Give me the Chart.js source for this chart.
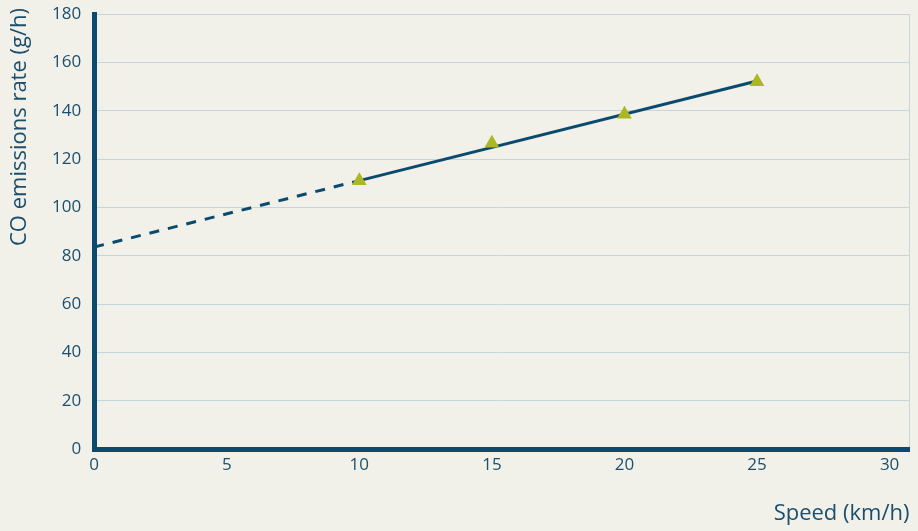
<!DOCTYPE html>
<html>
<head>
<meta charset="utf-8">
<script src="https://cdn.jsdelivr.net/npm/chart.js@4/dist/chart.umd.min.js"></script>
<style>
  html, body { margin: 0; padding: 0; background: #f1f0e9; }
  #wrap { width: 918px; height: 531px; }
</style>
</head>
<body>
<div id="wrap"><canvas id="c" width="918" height="531"></canvas></div>
<script>
// Measured CO emission rates at each speed
const speeds = [10, 15, 20, 25];
const emissions = [111, 126.5, 138.5, 152];

// Linear trend: extrapolated back to 0 km/h (dashed), fitted over the measured range (solid)
const trendSpeeds = [0, 10, 25];
const trendValues = [83.6, 111.1, 152.3];

// Axis ticks
const xTicks = [0, 5, 10, 15, 20, 25, 30];
const yTicks = [0, 20, 40, 60, 80, 100, 120, 140, 160, 180];

const yTitle = 'CO emissions rate (g/h)';
const xTitle = 'Speed (km/h)';

const NAVY = '#0a4a6f';
const TEXT = '#1b4f6d';
const GRID = '#c4d6db';
const LIME = '#abb822';
const FONT = "'Open Sans', 'Noto Sans', sans-serif";

const trendPoints = trendSpeeds.map((x, i) => ({ x, y: trendValues[i] }));
const markerPoints = speeds.map((x, i) => ({ x, y: emissions[i] }));

// Vertical axis title, set flush with the top of the plot
const yTitlePlugin = {
  id: 'yTitle',
  afterDraw(chart) {
    const ctx = chart.ctx;
    ctx.save();
    ctx.translate(20, 8);
    ctx.rotate(-Math.PI / 2);
    ctx.font = '22px ' + FONT;
    ctx.fillStyle = TEXT;
    ctx.textAlign = 'right';
    ctx.textBaseline = 'middle';
    ctx.fillText(yTitle, 0, 0);
    ctx.restore();
  }
};

new Chart(document.getElementById('c'), {
  type: 'scatter',
  data: {
    datasets: [
      {
        type: 'line',
        data: trendPoints,
        borderColor: NAVY,
        borderWidth: 3,
        pointRadius: 0,
        fill: false,
        tension: 0,
        segment: {
          borderDash: ctx => ctx.p1.parsed.x <= 10 ? [10, 9] : undefined
        },
        order: 2
      },
      {
        data: markerPoints,
        pointStyle: 'triangle',
        pointRadius: 8.5,
        pointHoverRadius: 8.5,
        backgroundColor: LIME,
        borderColor: LIME,
        borderWidth: 0,
        order: 1
      }
    ]
  },
  plugins: [yTitlePlugin],
  options: {
    responsive: false,
    animation: false,
    layout: { padding: { top: 14, right: 4, bottom: 4, left: 39 } },
    plugins: { legend: { display: false }, tooltip: { enabled: false } },
    scales: {
      x: {
        type: 'linear',
        min: 0,
        max: 30.75,
        afterBuildTicks: axis => {
          axis.ticks = xTicks.map(v => ({ value: v })).concat([{ value: 30.75 }]);
        },
        afterFit: scale => { scale.paddingLeft = 0; scale.paddingRight = 0; },
        border: { color: NAVY, width: 5 },
        grid: {
          drawTicks: false,
          lineWidth: 1,
          color: ctx => (ctx.tick && ctx.tick.value > 30 ? GRID : 'rgba(0,0,0,0)')
        },
        ticks: {
          padding: 6,
          color: TEXT,
          font: { family: FONT, size: 17 },
          callback: v => (xTicks.includes(v) ? String(v) : '')
        },
        title: {
          display: true,
          text: xTitle,
          align: 'end',
          color: TEXT,
          font: { family: FONT, size: 22 },
          padding: { top: 19, bottom: 0 }
        }
      },
      y: {
        type: 'linear',
        min: 0,
        max: 180,
        afterBuildTicks: axis => {
          axis.ticks = yTicks.map(v => ({ value: v }));
        },
        afterFit: scale => { scale.paddingTop = 0; scale.paddingBottom = 0; },
        border: { color: NAVY, width: 5 },
        grid: { drawTicks: false, lineWidth: 1, color: GRID },
        ticks: {
          padding: 13,
          color: TEXT,
          font: { family: FONT, size: 17 }
        }
      }
    }
  }
});
</script>
</body>
</html>
